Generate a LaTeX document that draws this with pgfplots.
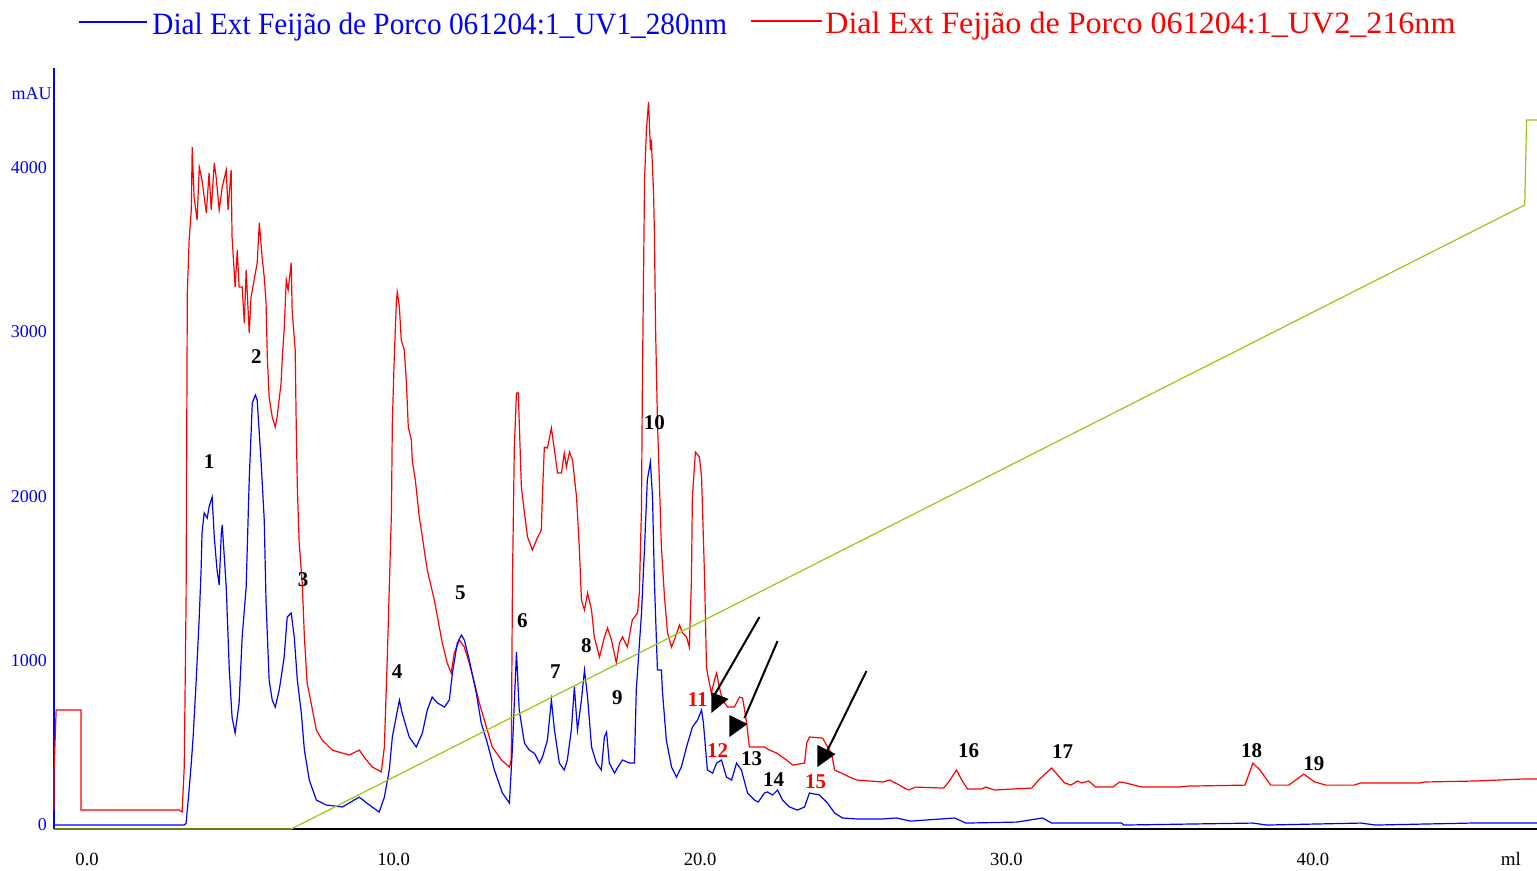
\documentclass[border=0pt]{standalone}
\usepackage{fontspec}
\setmainfont{Liberation Serif}
\usepackage{graphicx}
\usepackage{pgfplots}
\pgfplotsset{compat=1.18}
\definecolor{grad}{RGB}{150,200,20}

\begin{document}
\begin{tikzpicture}[lbl/.style={font=\fontsize{10.5}{12}\selectfont\bfseries}]
\useasboundingbox (-27pt,-21pt) rectangle (741.5pt,414.5pt);
\begin{axis}[
  scale only axis, width=741.5pt, height=380.5pt,
  xmin=-1.08, xmax=47.31, ymin=-24, ymax=4607,
  axis x line=bottom, axis y line=left,
  axis line style={-},
  x axis line style={black, line width=0.6pt, -},
  y axis line style={blue, line width=0.6pt, -},
  xtick={0,10,20,30,40}, ytick={0,1000,2000,3000,4000},
  major tick length=0pt,
  /pgf/number format/assume math mode=true,
  xticklabel style={font=\fontsize{9.3}{11}\selectfont, black, yshift=-8.5pt,
    /pgf/number format/.cd, fixed, fixed zerofill, precision=1},
  yticklabel style={font=\fontsize{9}{11}\selectfont, blue,
    /pgf/number format/.cd, 1000 sep={}},
  clip=false,
]
% UV2 216 nm
\addplot[red, line width=0.6pt] coordinates {
(-1.08,91) (-1.08,316) (-1.01,700) (-0.20,700) (-0.20,91) (3.00,91) (3.10,79) (3.17,353) (3.23,1369) (3.27,3238) (3.33,3560) (3.40,3743) (3.43,4126) (3.49,3822) (3.59,3682) (3.66,4005) (3.75,3925) (3.89,3725) (3.98,3968) (4.05,3743) (4.15,4029) (4.21,3944) (4.31,3743) (4.41,3883) (4.54,3986) (4.60,3743) (4.70,3986) (4.73,3579) (4.83,3274) (4.90,3500) (4.96,3274) (5.06,3274) (5.13,3055) (5.19,3378) (5.29,2994) (5.35,3213) (5.45,3317) (5.55,3420) (5.62,3664) (5.71,3457) (5.78,3335) (5.84,3177) (5.88,2848) (5.94,2605) (6.04,2483) (6.14,2422) (6.20,2483) (6.33,2690) (6.37,2848) (6.43,3013) (6.50,3317) (6.56,3256) (6.66,3420) (6.69,3134) (6.79,2891) (6.82,2483) (6.86,2057) (6.92,1716) (7.02,1473) (7.09,1144) (7.18,864) (7.31,743) (7.48,578) (7.67,517) (8.00,456) (8.55,426) (8.88,456) (9.11,396) (9.31,353) (9.60,323) (9.70,475) (9.80,1047) (9.93,1899) (9.96,2447) (10.02,2830) (10.09,3177) (10.12,3244) (10.19,3153) (10.25,2952) (10.35,2891) (10.42,2690) (10.48,2422) (10.58,2343) (10.61,2221) (10.71,2100) (10.77,1996) (10.84,1874) (10.94,1753) (11.00,1674) (11.10,1552) (11.23,1448) (11.33,1369) (11.39,1308) (11.59,1108) (11.75,986) (11.88,925) (11.98,1047) (12.15,1126) (12.31,1083) (12.47,986) (12.64,864) (12.80,743) (13.03,596) (13.22,475) (13.52,396) (13.78,353) (13.84,396) (13.88,1491) (13.94,2300) (14.01,2629) (14.07,2629) (14.17,2057) (14.27,1899) (14.37,1753) (14.53,1674) (14.69,1747) (14.82,1795) (14.86,2021) (14.92,2300) (15.02,2294) (15.15,2416) (15.25,2282) (15.35,2142) (15.48,2142) (15.57,2264) (15.64,2179) (15.74,2270) (15.84,2221) (15.97,1996) (16.06,1692) (16.13,1369) (16.23,1308) (16.33,1412) (16.46,1308) (16.55,1144) (16.72,1022) (16.88,1144) (16.98,1199) (17.11,1126) (17.27,986) (17.37,1108) (17.47,1144) (17.63,1083) (17.79,1248) (17.96,1290) (18.02,1412) (18.09,1935) (18.12,2708) (18.19,3925) (18.25,4230) (18.32,4400) (18.35,4260) (18.38,4108) (18.41,4169) (18.48,3865) (18.51,3621) (18.55,3013) (18.61,2465) (18.74,1692) (18.84,1388) (18.94,1169) (19.07,1083) (19.16,1126) (19.33,1217) (19.43,1169) (19.56,1144) (19.65,1083) (19.72,1491) (19.75,1996) (19.85,2270) (19.98,2240) (20.05,2118) (20.15,1491) (20.21,962) (20.24,925) (20.37,803) (20.47,882) (20.54,925) (20.63,840) (20.73,761) (20.90,718) (21.12,718) (21.29,779) (21.39,773) (21.52,621) (21.61,475) (21.84,475) (22.10,475) (22.27,456) (22.50,438) (22.82,396) (23.02,365) (23.41,377) (23.48,499) (23.57,536) (24.00,529) (24.16,475) (24.29,438) (24.39,335) (24.62,316) (24.88,292) (25.11,274) (25.96,262) (26.19,274) (26.51,243) (26.61,231) (26.81,213) (27.03,231) (27.95,225) (28.11,262) (28.37,335) (28.54,274) (28.73,219) (29.19,219) (29.32,231) (29.61,213) (30.17,219) (30.82,225) (31.05,274) (31.47,347) (31.90,256) (32.10,243) (32.32,268) (32.45,256) (32.68,268) (32.91,231) (33.47,231) (33.69,262) (33.89,256) (34.41,231) (35.62,231) (35.92,237) (37.78,243) (38.04,377) (38.27,335) (38.62,243) (39.21,243) (39.70,310) (40.06,262) (40.42,243) (41.34,243) (41.56,256) (41.92,256) (43.49,256) (43.65,262) (45.29,268) (46.85,280) (47.31,280)
};
% UV1 280 nm
\addplot[blue, line width=0.6pt] coordinates {
(-1.08,0) (3.17,0) (3.23,12) (3.30,152) (3.40,377) (3.46,536) (3.56,882) (3.66,1266) (3.72,1552) (3.75,1777) (3.82,1899) (3.92,1868) (3.98,1935) (4.08,1996) (4.15,1753) (4.24,1552) (4.31,1461) (4.38,1777) (4.41,1826) (4.54,1448) (4.64,943) (4.73,657) (4.83,560) (4.96,743) (5.06,1144) (5.19,1448) (5.29,2100) (5.39,2568) (5.49,2617) (5.55,2587) (5.68,2203) (5.78,1856) (5.84,1351) (5.94,882) (6.04,761) (6.14,718) (6.27,822) (6.43,1022) (6.53,1266) (6.66,1290) (6.76,1144) (6.86,882) (6.99,682) (7.09,456) (7.25,274) (7.48,152) (7.80,122) (8.33,110) (8.55,134) (8.88,170) (9.21,122) (9.53,79) (9.70,170) (9.86,335) (9.96,536) (10.19,760) (10.28,682) (10.51,536) (10.74,475) (10.94,560) (11.10,700) (11.26,779) (11.43,743) (11.66,718) (11.82,761) (11.92,925) (12.08,1108) (12.21,1156) (12.31,1126) (12.47,1004) (12.70,803) (12.86,621) (13.06,499) (13.29,335) (13.55,195) (13.78,134) (13.88,475) (14.01,1053) (14.10,700) (14.27,499) (14.43,456) (14.60,436) (14.76,377) (14.86,414) (15.02,517) (15.15,761) (15.25,578) (15.41,377) (15.57,335) (15.67,396) (15.80,578) (15.90,840) (16.00,578) (16.13,761) (16.23,943) (16.33,779) (16.46,475) (16.62,377) (16.78,335) (16.88,536) (16.95,566) (17.04,377) (17.21,316) (17.30,347) (17.47,396) (17.70,377) (17.86,377) (17.92,822) (18.09,1290) (18.19,1692) (18.28,2100) (18.38,2209) (18.45,1996) (18.51,1491) (18.61,943) (18.74,943) (18.77,822) (18.90,517) (19.07,353) (19.23,292) (19.39,353) (19.56,475) (19.75,596) (19.92,639) (20.05,700) (20.11,621) (20.24,335) (20.41,316) (20.54,377) (20.70,396) (20.86,292) (21.03,274) (21.19,377) (21.35,335) (21.55,195) (21.78,152) (21.90,140) (22.10,195) (22.20,201) (22.37,183) (22.53,213) (22.69,152) (22.92,110) (23.18,91) (23.41,110) (23.57,195) (23.90,183) (24.16,134) (24.39,73) (24.65,43) (25.11,37) (25.96,37) (26.41,43) (26.87,24) (28.31,43) (28.67,12) (30.33,18) (31.18,43) (31.47,12) (33.76,12) (33.83,0) (38.04,12) (38.49,0) (41.56,12) (42.05,0) (45.15,12) (47.31,12)
};
% gradient
\addplot[grad, line width=0.6pt] coordinates {
(-1.08,-24) (6.66,-24) (46.91,3773) (46.97,4291) (47.31,4291)
};
% peak labels
\node[lbl] at (axis cs:3.98,2209) {1};
\node[lbl] at (axis cs:5.52,2848) {2};
\node[lbl] at (axis cs:7.05,1491) {3};
\node[lbl] at (axis cs:10.12,931) {4};
\node[lbl] at (axis cs:12.18,1412) {5};
\node[lbl] at (axis cs:14.20,1242) {6};
\node[lbl] at (axis cs:15.28,931) {7};
\node[lbl] at (axis cs:16.29,1089) {8};
\node[lbl] at (axis cs:17.30,773) {9};
\node[lbl] at (axis cs:18.51,2447) {10};
\node[lbl, red] at (axis cs:19.92,761) {11};
\node[lbl, red] at (axis cs:20.57,456) {12};
\node[lbl] at (axis cs:21.68,402) {13};
\node[lbl] at (axis cs:22.40,274) {14};
\node[lbl, red] at (axis cs:23.77,262) {15};
\node[lbl] at (axis cs:28.76,450) {16};
\node[lbl] at (axis cs:31.83,450) {17};
\node[lbl] at (axis cs:38.00,450) {18};
\node[lbl] at (axis cs:40.03,371) {19};
% arrows
\draw[black, line width=1pt] (axis cs:21.94,1266) -- (axis cs:20.47,791);
\fill[black] (axis cs:20.37,809) -- (axis cs:20.37,682) -- (axis cs:20.93,767) -- cycle;
\draw[black, line width=1pt] (axis cs:22.53,1120) -- (axis cs:21.45,651);
\fill[black] (axis cs:20.96,669) -- (axis cs:20.96,536) -- (axis cs:21.55,615) -- cycle;
\draw[black, line width=1pt] (axis cs:25.43,937) -- (axis cs:24.13,444);
\fill[black] (axis cs:23.83,487) -- (axis cs:23.83,353) -- (axis cs:24.42,432) -- cycle;
% axis units
\node[anchor=east, inner sep=1pt, blue, font=\fontsize{9}{11}\selectfont] at (axis cs:-1.08,4449) {mAU};
\node[anchor=north, inner sep=0pt, black, font=\fontsize{9.5}{11}\selectfont] at (axis cs:46.46,-24) [yshift=-11.5pt] {ml};
\end{axis}
% legend
\draw[blue, line width=0.6pt] (12.5pt,403.5pt) -- (46.5pt,403.5pt);
\node[anchor=base west, inner sep=0pt, blue, font=\fontsize{15.5}{18}\selectfont] at (49pt,397pt)
  {\scalebox{0.944}[1]{Dial Ext Feijão de Porco 061204:1\_UV1\_280nm}};
\draw[red, line width=0.6pt] (348.5pt,404pt) -- (384pt,404pt);
\node[anchor=base west, inner sep=0pt, red, font=\fontsize{15.5}{18}\selectfont] at (385.5pt,397.5pt)
  {\scalebox{1.035}[1]{Dial Ext Fejjão de Porco 061204:1\_UV2\_216nm}};
\end{tikzpicture}
\end{document}
